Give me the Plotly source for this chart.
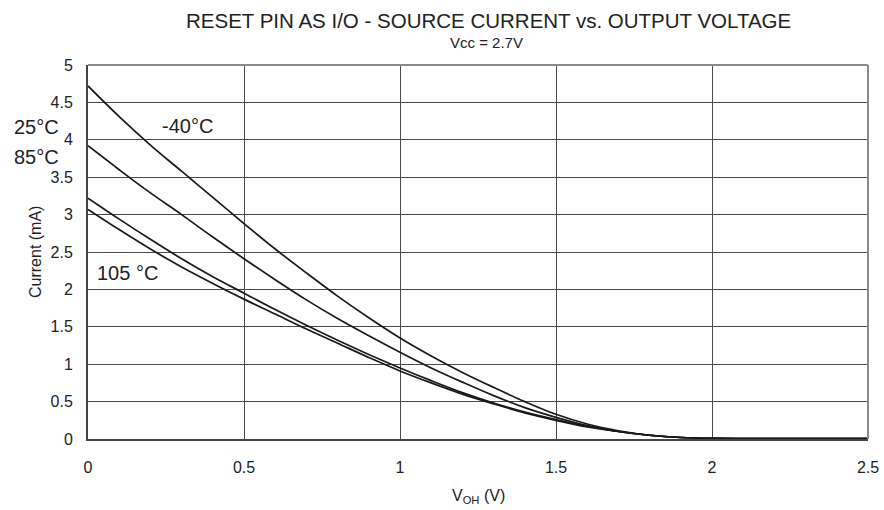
import plotly.graph_objects as go

# Data (V_OH in volts, current in mA)
v_oh = [0, 0.1, 0.2, 0.3, 0.4, 0.5, 0.6, 0.7, 0.8, 0.9, 1.0, 1.1, 1.2, 1.3, 1.4, 1.5,
        1.6, 1.7, 1.8, 1.9, 2.0, 2.1, 2.2, 2.3, 2.4, 2.5]
i_m40 = [4.72, 4.31, 3.93, 3.58, 3.23, 2.88, 2.54, 2.22, 1.91, 1.62, 1.35, 1.11, 0.89, 0.69, 0.50, 0.33,
         0.20, 0.11, 0.05, 0.02, 0.008, 0.006, 0.005, 0.005, 0.005, 0.005]
i_25 = [3.92, 3.60, 3.29, 3.00, 2.70, 2.41, 2.13, 1.86, 1.61, 1.38, 1.16, 0.95, 0.76, 0.58, 0.42, 0.29,
        0.18, 0.10, 0.05, 0.02, 0.008, 0.006, 0.005, 0.005, 0.005, 0.005]
i_85 = [3.22, 2.94, 2.67, 2.41, 2.17, 1.95, 1.73, 1.52, 1.32, 1.13, 0.95, 0.78, 0.62, 0.48, 0.36, 0.26,
        0.17, 0.10, 0.05, 0.02, 0.008, 0.006, 0.005, 0.005, 0.005, 0.005]
i_105 = [3.07, 2.80, 2.54, 2.30, 2.08, 1.87, 1.67, 1.47, 1.28, 1.09, 0.91, 0.75, 0.60, 0.47, 0.35, 0.25,
         0.16, 0.10, 0.05, 0.02, 0.008, 0.006, 0.005, 0.005, 0.005, 0.005]

series = [("-40°C", i_m40), ("25°C", i_25), ("85°C", i_85), ("105 °C", i_105)]

x_ticks = [0, 0.5, 1, 1.5, 2, 2.5]
x_ticktext = ["0", "0.5", "1", "1.5", "2", "2.5"]
y_ticks = [0, 0.5, 1, 1.5, 2, 2.5, 3, 3.5, 4, 4.5, 5]
y_ticktext = ["0", "0.5", "1", "1.5", "2", "2.5", "3", "3.5", "4", "4.5", "5"]

FONT = "Liberation Sans, Arial, sans-serif"
TXT = "#222222"
fig = go.Figure()
for name, ys in series:
    fig.add_trace(go.Scatter(x=v_oh, y=ys, mode="lines", name=name,
                             line=dict(color="#1a1a1a", width=1.7, shape="spline", smoothing=1.0),
                             showlegend=False, hoverinfo="x+y+name"))

fig.update_layout(
    width=884, height=510,
    margin=dict(l=88, r=16, t=65, b=71),
    paper_bgcolor="white", plot_bgcolor="white",
    font=dict(family=FONT, color=TXT, size=16),
    xaxis=dict(range=[0, 2.5], tickvals=x_ticks, ticktext=x_ticktext, automargin=False,
               showgrid=True, gridcolor="#4a4a4a", gridwidth=1, zeroline=False,
               showline=True, linecolor="#444", linewidth=2,
               ticks="", ticklabelstandoff=13, tickfont=dict(size=16)),
    yaxis=dict(range=[0, 5], tickvals=y_ticks, ticktext=y_ticktext, automargin=False,
               showgrid=True, gridcolor="#4a4a4a", gridwidth=1, zeroline=False,
               showline=True, linecolor="#444", linewidth=2,
               ticks="", ticklabelstandoff=10, tickfont=dict(size=16)),
)

# top and right frame (lighter grey)
fig.add_shape(type="line", xref="paper", yref="paper", x0=0, x1=1, y0=1, y1=1,
              line=dict(color="#8a8a8a", width=2), layer="above")
fig.add_shape(type="line", xref="paper", yref="paper", x0=1, x1=1, y0=0, y1=1,
              line=dict(color="#8a8a8a", width=2), layer="above")

# Titles
fig.add_annotation(text="RESET PIN AS I/O - SOURCE CURRENT vs. OUTPUT VOLTAGE", xref="paper", yref="paper",
                   x=(489 - 88) / 780, y=1, yshift=45, xanchor="center", yanchor="middle", showarrow=False,
                   font=dict(size=20.5, family=FONT, color=TXT))
fig.add_annotation(text="Vcc = 2.7V", xref="paper", yref="paper",
                   x=(487 - 88) / 780, y=1, yshift=23, xanchor="center", yanchor="middle", showarrow=False,
                   font=dict(size=15, family=FONT, color=TXT))
fig.add_annotation(text="V<sub>OH</sub> (V)", xref="paper", yref="paper",
                   x=0.5, y=0, yshift=-57, xanchor="center", yanchor="middle", showarrow=False,
                   font=dict(size=16, family=FONT, color=TXT))
fig.add_annotation(text="Current (mA)", xref="paper", yref="paper", textangle=-90,
                   x=0, xshift=-53, y=0.5, xanchor="center", yanchor="middle", showarrow=False,
                   font=dict(size=16, family=FONT, color=TXT))

# Curve labels
fig.add_annotation(text="-40°C", x=0.231, y=4.18, xref="x", yref="y", xanchor="left", yanchor="middle",
                   showarrow=False, font=dict(size=20, family=FONT, color=TXT))
fig.add_annotation(text="105 °C", x=0.022, y=2.22, xref="x", yref="y", xanchor="left", yanchor="middle",
                   showarrow=False, font=dict(size=20, family=FONT, color=TXT))
fig.add_annotation(text="25°C", xref="paper", yref="paper", x=0, xshift=-27, y=(439 - 127) / 374,
                   xanchor="right", yanchor="middle", showarrow=False,
                   font=dict(size=20, family=FONT, color=TXT))
fig.add_annotation(text="85°C", xref="paper", yref="paper", x=0, xshift=-27, y=(439 - 157) / 374,
                   xanchor="right", yanchor="middle", showarrow=False,
                   font=dict(size=20, family=FONT, color=TXT))

fig.write_html("out.html", config={"displayModeBar": False},
               post_script="document.body.style.margin='0';")
